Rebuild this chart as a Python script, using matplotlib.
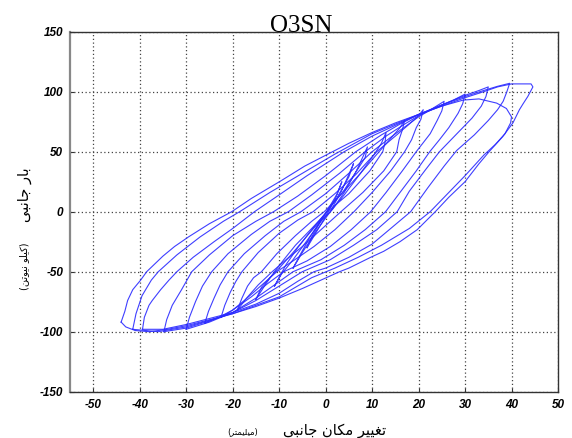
import matplotlib
matplotlib.use("Agg")
import matplotlib.pyplot as plt

# ---------------- data ----------------
title_text = "O3SN"
x_ticks = [-50, -40, -30, -20, -10, 0, 10, 20, 30, 40, 50]
y_ticks = [-150, -100, -50, 0, 50, 100, 150]
x_limits = [-55, 50]
y_limits = [-150, 150]
x_label_main = "تغییر مکان جانبی"
x_label_unit = "(میلیمتر)"
y_label_main = "بار جانبی"
y_label_unit = "(کیلو نیوتن)"

# hysteresis loops: (displacement mm, load kN), upper branch then lower branch
loop_1 = [(-44, -92), (-43.2, -83), (-42.6, -74), (-41.5, -65), (-39.8, -57), (-38.5, -50),
          (-35, -37), (-32.5, -29), (-29.5, -21), (-25, -10), (-20.2, 0), (-16, 11), (-9.5, 26),
          (-4.5, 38), (0.5, 48), (5, 57), (10, 66), (15, 74), (20, 81), (25, 88), (30, 95),
          (34, 100), (37, 104), (40, 106.5), (44.2, 106.5),
          (44.6, 104), (43.5, 96), (42.5, 90), (41.7, 85), (40.3, 74), (38.1, 62.5), (35.4, 51),
          (33, 40), (30, 25), (26.5, 12), (23.6, 0), (19.7, -15), (16, -25), (12.5, -33),
          (9.7, -38), (5, -47), (3, -50), (-1, -57), (-5, -64), (-10, -72), (-15, -79),
          (-20, -85), (-25, -90), (-30, -95), (-34, -98), (-38, -100), (-41, -99), (-43, -96),
          (-44, -92)]
loop_1b = [(-41.5, -98), (-40.8, -85), (-39.5, -70), (-37.5, -57), (-36, -50), (-32, -36),
           (-27, -21), (-22, -8), (-18.5, 0), (-12, 16), (-5, 32), (2, 48), (10, 65), (20, 81),
           (25, 88), (29.6, 93), (33, 94), (36.8, 90.5), (38.9, 86), (40, 79), (39.8, 74),
           (38.6, 65), (36.5, 56), (34, 47), (30, 30), (26, 14), (22.5, 0), (18, -14), (12, -28),
           (7, -38), (2, -47), (-3, -55), (-10, -71), (-20, -85), (-30, -96), (-36, -100),
           (-41.5, -98)]
loop_2 = [(-39.4, -98), (-39, -88), (-38, -78), (-37.3, -74), (-35.5, -65), (-33.7, -57),
          (-32, -50), (-28.5, -38), (-24, -25), (-20, -14), (-15.3, 0), (-10, 14), (-4, 30),
          (4, 50), (10, 63), (15, 72), (20, 81), (25, 89), (30, 96), (34, 101), (37, 104.5),
          (39.6, 107),
          (39, 100), (38.2, 92), (37, 85), (35, 76), (32, 64), (28.2, 51), (25.5, 38), (22, 20),
          (18.3, 0), (14, -14), (10, -27), (5, -38), (0, -47), (-2.5, -50), (-6, -58),
          (-10, -68), (-15, -77), (-20, -84), (-25, -89), (-30, -94), (-35, -98), (-39.4, -98)]
loop_3 = [(-34.8, -100), (-34.2, -90), (-33, -78), (-31, -65), (-28.8, -50), (-25, -36),
          (-20, -20), (-15, -8), (-11.2, 0), (-6, 13), (0, 30), (6.5, 50), (12, 64), (16, 73),
          (20, 81), (25, 89), (30, 97), (33, 101), (35, 104),
          (34.5, 96), (33.5, 88), (31.5, 78), (28, 64), (24.5, 50), (21.5, 35), (18, 17),
          (15.4, 0), (11, -15), (6, -28), (1, -40), (-5, -50), (-10, -62), (-15, -74),
          (-20, -84), (-25, -91), (-30, -97), (-34.8, -100)]
loop_4 = [(-30, -98), (-29.3, -88), (-28, -75), (-26.5, -62), (-24.5, -50), (-21, -35),
          (-16, -19), (-12, -8), (-8, 0), (-3, 14), (3, 32), (8.5, 50), (13, 63), (17, 73),
          (20, 80), (24, 87), (27.5, 93), (30, 98),
          (29.5, 90), (28.5, 82), (26.5, 70), (24.5, 60), (22.4, 50), (19.5, 34), (16, 16),
          (12.9, 0), (8.5, -15), (4, -28), (-1, -40), (-7, -50), (-11, -61), (-15, -72),
          (-20, -84), (-25, -92), (-30, -98)]
loop_5 = [(-26, -93), (-25.2, -83), (-24, -72), (-22.7, -61), (-21, -50), (-17.5, -35),
          (-13, -20), (-9, -8), (-5.3, 0), (0, 15), (5, 32), (10, 50), (14, 62), (17.5, 72),
          (20, 79), (23, 86), (25.5, 92),
          (25, 84), (24, 76), (22.5, 65), (19.5, 50), (16.5, 34), (13, 16), (9.7, 0),
          (5.5, -15), (1, -29), (-4, -41), (-9, -50), (-12.5, -60), (-16, -71), (-20, -82),
          (-23, -88), (-26, -93)]
loop_6 = [(-22.5, -88), (-21.7, -78), (-20.5, -67), (-19.3, -58), (-18, -50), (-14.5, -34),
          (-10, -18), (-6, -7), (-2.7, 0), (2, 15), (6.5, 31), (11, 50), (15, 63), (18, 73),
          (20, 80), (21, 85),
          (20.5, 77), (19.5, 70), (18.5, 60), (17, 50), (14, 34), (10, 16), (6.1, 0), (2, -15),
          (-2.5, -29), (-7, -41), (-10.5, -50), (-14, -62), (-17.5, -74), (-20, -82),
          (-22.5, -88)]
loop_7 = [(-19, -82), (-18, -72), (-16.8, -62), (-15.5, -55), (-13.8, -50), (-10.5, -35),
          (-6.5, -20), (-3, -8), (-0.3, 0), (3.5, 15), (7.5, 32), (11.5, 50), (14, 61), (16, 70),
          (17, 76),
          (16.5, 68), (15.8, 60), (15.3, 50), (12.5, 34), (8, 16), (3.3, 0), (-1, -15),
          (-5, -29), (-8.5, -40), (-11.5, -50), (-14.5, -61), (-17, -72), (-19, -82)]
loop_8 = [(-15, -73), (-13.8, -63), (-12, -55), (-10.2, -48), (-7, -34), (-3.5, -18), (-1, -7),
          (1, 0), (4, 14), (7.5, 32), (10.5, 48), (12, 57), (13, 66),
          (12.8, 58), (12.3, 50), (9.5, 34), (5, 15), (0.4, 0), (-3, -14), (-6.5, -28),
          (-9, -40), (-11, -50), (-13, -61), (-15, -73)]
loop_9 = [(-11, -62), (-9.5, -52), (-7, -40), (-4, -24), (-1, -8), (1.5, 2), (4, 16),
          (6.5, 33), (9, 54),
          (8.5, 45), (7, 36), (4, 18), (0, -1), (-3, -15), (-6, -30), (-8.5, -44), (-11, -62)]
loop_10 = [(-7, -47), (-5, -34), (-2, -16), (1, 0), (3.5, 18), (6, 40),
           (5, 29), (2.5, 12), (-0.5, -4), (-3.5, -22), (-5.5, -36), (-7, -47)]
loop_11 = [(-4, -30), (-2, -17), (0, -4), (2, 10), (3.5, 25),
           (2.5, 15), (0.5, 2), (-1.5, -11), (-3, -21), (-4, -30)]

loops = [loop_1, loop_1b, loop_2, loop_3, loop_4, loop_5, loop_6, loop_7,
         loop_8, loop_9, loop_10, loop_11]

# ---------------- minimal Persian shaping (presentation forms) ----------------
FORMS = {  # isolated, final, initial, medial
    'ا': ('\uFE8D', '\uFE8E', None, None),
    'ب': ('\uFE8F', '\uFE90', '\uFE91', '\uFE92'),
    'ت': ('\uFE95', '\uFE96', '\uFE97', '\uFE98'),
    'ج': ('\uFE9D', '\uFE9E', '\uFE9F', '\uFEA0'),
    'ر': ('\uFEAD', '\uFEAE', None, None),
    'غ': ('\uFECD', '\uFECE', '\uFECF', '\uFED0'),
    'ل': ('\uFEDD', '\uFEDE', '\uFEDF', '\uFEE0'),
    'م': ('\uFEE1', '\uFEE2', '\uFEE3', '\uFEE4'),
    'ن': ('\uFEE5', '\uFEE6', '\uFEE7', '\uFEE8'),
    'و': ('\uFEED', '\uFEEE', None, None),
    'ک': ('\uFB8E', '\uFB8F', '\uFB90', '\uFB91'),
    'ی': ('\uFBFC', '\uFBFD', '\uFBFE', '\uFBFF'),
}


def shape_rtl(s):
    out = []
    for i, ch in enumerate(s):
        if ch not in FORMS:
            out.append(ch)
            continue
        prev = s[i - 1] if i > 0 else None
        nxt = s[i + 1] if i + 1 < len(s) else None
        j_prev = prev in FORMS and FORMS[prev][2] is not None
        j_next = FORMS[ch][2] is not None and nxt in FORMS
        iso, fin, ini, med = FORMS[ch]
        if j_prev and j_next:
            out.append(med)
        elif j_prev:
            out.append(fin)
        elif j_next:
            out.append(ini)
        else:
            out.append(iso)
    vis = ''.join(reversed(out))
    return vis.translate(str.maketrans({'(': ')', ')': '('}))


# ---------------- figure ----------------
W, H = 572, 438
fig = plt.figure(figsize=(W / 100, H / 100), dpi=100)
ax = fig.add_axes([70 / W, 1 - 391.7 / H, (558 - 70) / W, (391.7 - 31.7) / H])

for lp in loops:
    xs = [p[0] for p in lp]
    ys = [p[1] for p in lp]
    ax.plot(xs, ys, color='#2a2aff', linewidth=0.8, alpha=0.9, solid_joinstyle='round')

ax.set_xlim(*x_limits)
ax.set_ylim(*y_limits)
tick_font = dict(family=['Liberation Sans', 'DejaVu Sans'], weight='bold',
                 style='italic', size=8.5, color='black')
ax.set_xticks(x_ticks, labels=[str(v) for v in x_ticks], **tick_font)
ax.set_yticks(y_ticks, labels=[str(v) for v in y_ticks], **tick_font)
ax.grid(True, color='#444444', linestyle=(0, (1, 2)), linewidth=0.9)
ax.tick_params(direction='in', length=3, width=0.8, colors='#333333', labelcolor='black', pad=5)
for side in ['top', 'right', 'bottom']:
    ax.spines[side].set_color('#333333')
    ax.spines[side].set_linewidth(1.0)
ax.spines['left'].set_color('#888888')
ax.spines['left'].set_linewidth(1.6)

fig.text(300.8 / W, 1 - 31.5 / H, title_text, family=['Liberation Serif', 'DejaVu Serif'],
         fontsize=18, ha='center', va='baseline')

fa = ['DejaVu Sans']
fig.text(335 / W, 1 - 431 / H, shape_rtl(x_label_main), family=fa, fontsize=10.5,
         ha='center', va='center')
fig.text(243 / W, 1 - 432 / H, shape_rtl(x_label_unit), family=fa, fontsize=6,
         ha='center', va='center')
fig.text(24 / W, 1 - 195 / H, shape_rtl(y_label_main), family=fa, fontsize=10.5,
         rotation=90, ha='center', va='center')
fig.text(24 / W, 1 - 266 / H, shape_rtl(y_label_unit), family=fa, fontsize=7,
         rotation=90, ha='center', va='center')

fig.savefig('out.png', dpi=100)
